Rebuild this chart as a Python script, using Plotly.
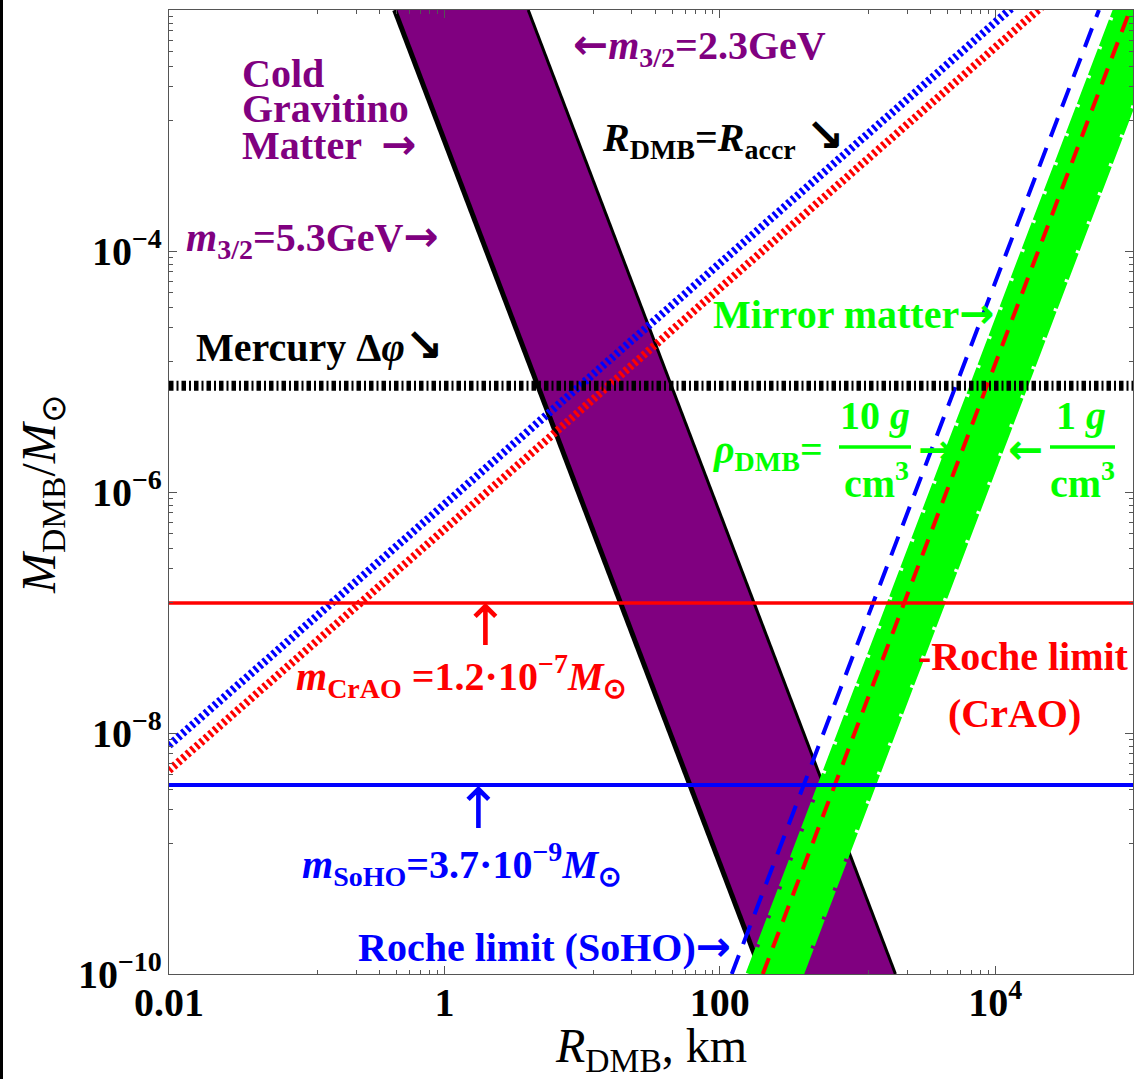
import plotly.graph_objects as go

# ---------------- data ----------------
x_range_log = [-2, 5]
y_range_log = [-10, -2]

x_tick_vals = [0.01, 1, 100, 1e4]
x_tick_text = ["0.01", "1", "100", "10<sup>4</sup>"]
y_tick_vals = [1e-10, 1e-8, 1e-6, 1e-4]
y_tick_text = ["10<sup>−10</sup>", "10<sup>−8</sup>", "10<sup>−6</sup>", "10<sup>−4</sup>"]
x_minor_bases = [0.01, 1, 100]
y_minor_bases = [1e-10, 1e-8, 1e-6, 1e-4]

band_M = [1e-10, 1e-2]
grav_R_left = [202, 0.435]
grav_R_right = [1884, 4.06]
mirror_R_left = [163, 75700]
mirror_R_right = [385, 178700]
roche_crao_R = [205, 95200]
roche_soho_R = [122, 56600]

accr_R = [0.01, 1e5]
accr_M_blue = [7.9e-9, 7.9e-2]
accr_M_red = [4.9e-9, 4.9e-2]

hline_R = [0.01, 1e5]
mercury_M = 7.6e-6
crao_M = 1.2e-7
soho_M = 3.7e-9

# ---------------- layout geometry ----------------
W, H = 1135, 1079
ML, MR, MT, MB = 169, 2, 10, 105
PW = W - ML - MR
PH = H - MT - MB

PURPLE = "#800080"
GREEN = "#00FF00"
RED = "#FF0000"
BLUE = "#0000FF"
FONT = "Liberation Serif"
FS = 40


def arr(ch, size=40):
    return f'<span style="font-family:DejaVu Sans;font-size:{size}px">{ch}</span>'


def pp(xp, yp):
    return (xp - ML) / PW, (H - MB - yp) / PH


fig = go.Figure()

# Cold gravitino matter band
fig.add_trace(go.Scatter(
    x=grav_R_left + grav_R_right[::-1], y=band_M + band_M[::-1],
    fill="toself", fillcolor=PURPLE, mode="lines", line=dict(width=0),
    hoverinfo="skip", showlegend=False))
fig.add_trace(go.Scatter(x=grav_R_left, y=band_M, mode="lines",
                         line=dict(color="black", width=5), showlegend=False))
fig.add_trace(go.Scatter(x=grav_R_right, y=band_M, mode="lines",
                         line=dict(color="black", width=3), showlegend=False))

# Mirror matter band
fig.add_trace(go.Scatter(
    x=mirror_R_left + mirror_R_right[::-1], y=band_M + band_M[::-1],
    fill="toself", fillcolor=GREEN, mode="lines", line=dict(width=0),
    hoverinfo="skip", showlegend=False))
for edge in (mirror_R_left, mirror_R_right):
    fig.add_trace(go.Scatter(x=edge, y=band_M, mode="lines",
                             line=dict(color=GREEN, width=7, dash="28px,3px"),
                             showlegend=False))

# R_DMB = R_accr dotted lines
fig.add_trace(go.Scatter(x=accr_R, y=accr_M_blue, mode="lines",
                         line=dict(color=BLUE, width=8, dash="3px,3px"), showlegend=False))
fig.add_trace(go.Scatter(x=accr_R, y=accr_M_red, mode="lines",
                         line=dict(color=RED, width=8, dash="3px,3px"), showlegend=False))

# Roche limits
fig.add_trace(go.Scatter(x=roche_soho_R, y=band_M, mode="lines",
                         line=dict(color=BLUE, width=4, dash="20px,12px"), showlegend=False))
fig.add_trace(go.Scatter(x=roche_crao_R, y=band_M, mode="lines",
                         line=dict(color=RED, width=4, dash="17px,11px"), showlegend=False))

# horizontal limits
fig.add_trace(go.Scatter(x=hline_R, y=[crao_M, crao_M], mode="lines",
                         line=dict(color=RED, width=3.5), showlegend=False))
fig.add_trace(go.Scatter(x=hline_R, y=[soho_M, soho_M], mode="lines",
                         line=dict(color=BLUE, width=4), showlegend=False))
fig.add_trace(go.Scatter(x=hline_R, y=[mercury_M, mercury_M], mode="lines",
                         line=dict(color="black", width=10, dash="4.5px,3px,2px,3px"),
                         showlegend=False))

x_minor = [b * (1 + 11 * k) for b in x_minor_bases for k in range(1, 9)]
y_minor = [b * (1 + 11 * k) for b in y_minor_bases for k in range(1, 9)]

axis_common = dict(
    type="log", showgrid=False, zeroline=False, showline=True,
    linecolor="#555", linewidth=1.3, mirror="ticks", ticks="inside",
    ticklen=8, tickwidth=1.2, tickcolor="#555",
    tickfont=dict(family=FONT, size=FS, color="black", weight="bold"),
    tickmode="array",
)

fig.update_layout(
    width=W, height=H, margin=dict(l=ML, r=MR, t=MT, b=MB),
    paper_bgcolor="white", plot_bgcolor="white", showlegend=False,
    xaxis=dict(range=x_range_log, tickvals=x_tick_vals, ticktext=x_tick_text,
               ticklabelstandoff=-7,
               minor=dict(tickmode="array", tickvals=x_minor, ticks="inside", ticklen=4,
                          tickcolor="#555", showgrid=False),
               **axis_common),
    yaxis=dict(range=y_range_log, tickvals=y_tick_vals, ticktext=y_tick_text,
               ticklabelstandoff=-2,
               minor=dict(tickmode="array", tickvals=y_minor, ticks="inside", ticklen=4,
                          tickcolor="#555", showgrid=False),
               **axis_common),
)

annotations = []


def ann(text, xp, yp, color, size=FS, xanchor="left", bold=True, angle=0):
    x, y = pp(xp, yp)
    annotations.append(dict(
        text=text, x=x, y=y, xref="paper", yref="paper", xanchor=xanchor,
        yanchor="middle", showarrow=False, textangle=angle,
        font=dict(family=FONT, size=size, color=color,
                  weight="bold" if bold else "normal")))


R_ = arr("→", 42)
L_ = arr("←", 42)
SE = arr("↘", 46)

ann(L_ + "<i>m</i><sub>3/2</sub>=2.3GeV", 571, 47, PURPLE)
ann("Cold", 240, 73, PURPLE)
ann("Gravitino", 240, 109, PURPLE)
ann("Matter  " + R_, 240, 145, PURPLE)
ann("<i>R</i><sub>DMB</sub>=<i>R</i><sub>accr</sub> " + SE, 600, 137, "black")
ann("<i>m</i><sub>3/2</sub>=5.3GeV" + R_, 184, 238, PURPLE)
ann("Mercury Δ<i>φ</i>" + SE, 194, 345, "black")
ann("Mirror matter" + R_, 711, 313, GREEN)
ann("<i>ρ</i><sub>DMB</sub>=", 711, 452, GREEN)
ann("10 <i>g</i>", 875, 416, GREEN, xanchor="center")
ann("cm<sup>3</sup>", 876, 480, GREEN, xanchor="center")
ann(R_, 916, 449, GREEN)
ann(L_, 1006, 449, GREEN)
ann("1 <i>g</i>", 1081, 416, GREEN, xanchor="center")
ann("cm<sup>3</sup>", 1082, 480, GREEN, xanchor="center")
ann(arr("↑", 56), 485, 625, RED, xanchor="center", bold=False)
ann("<i>m</i><sub>CrAO</sub> =1.2·10<sup>−7</sup><i>M</i><sub>⊙</sub>", 294, 676, RED)
ann("-Roche limit", 916, 656, RED)
ann("(CrAO)", 946, 713, RED)
ann(arr("↑", 56), 478, 808, BLUE, xanchor="center", bold=False)
ann("<i>m</i><sub>SoHO</sub>=3.7·10<sup>−9</sup><i>M</i><sub>⊙</sub>", 300, 864, BLUE)
ann("Roche limit (SoHO)" + R_, 356, 946, BLUE)
# axis titles
ann("<i>R</i><sub>DMB</sub>, km", 651, 1049, "black", size=48, xanchor="center", bold=False)
ann("<i>M</i><sub>DMB</sub>/<i>M</i><sub>⊙</sub>", 42, 495, "black", size=48,
    xanchor="center", bold=False, angle=-90)

fig.update_layout(annotations=annotations)

shapes = []
# fraction bars
for x0p, x1p in [(839, 911), (1050, 1115)]:
    a0 = pp(x0p, 447)
    a1 = pp(x1p, 447)
    shapes.append(dict(type="line", xref="paper", yref="paper",
                       x0=a0[0], x1=a1[0], y0=a0[1], y1=a1[1],
                       line=dict(color=GREEN, width=3.5)))
# left border of the picture
b0 = pp(1.5, 0)
b1 = pp(1.5, H)
shapes.append(dict(type="line", xref="paper", yref="paper",
                   x0=b0[0], x1=b1[0], y0=b0[1], y1=b1[1],
                   line=dict(color="black", width=3)))
fig.update_layout(shapes=shapes)

fig.write_html("out.html")
